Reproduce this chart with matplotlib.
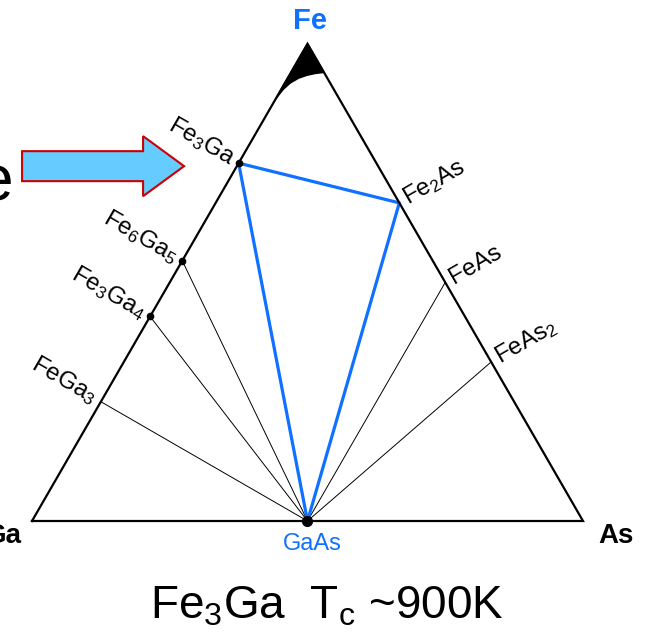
import numpy as np
import matplotlib.pyplot as plt
from matplotlib.patches import Polygon, FancyArrow

plt.rcParams['font.family'] = ['Liberation Sans', 'DejaVu Sans']
plt.rcParams['mathtext.default'] = 'regular'

BLUE = '#1070ff'

# compositions as (x_Fe, x_As), the rest is Ga
ga_side = ['$Fe_3Ga$', '$Fe_6Ga_5$', '$Fe_3Ga_4$', '$FeGa_3$']
ga_side_fe = [3 / 4, 6 / 11, 3 / 7, 1 / 4]
ga_side_dot = [True, True, True, False]

as_side = ['$Fe_2As$', 'FeAs', '$FeAs_2$']
as_side_fe = [2 / 3, 1 / 2, 1 / 3]

gaas = (0.0, 0.5)

# thin tie lines from GaAs
tie_fe_ga = [6 / 11, 3 / 7, 1 / 4]
tie_fe_as = [1 / 2, 1 / 3]

# blue three-phase triangle: Fe3Ga - Fe2As - GaAs
blue_tri = [(3 / 4, 0.0), (2 / 3, 1 / 3), (0.0, 0.5)]

# alpha-Fe solid solution boundary (x_Fe, x_As)
ss_fe = [0.885, 0.905, 0.918, 0.928, 0.934, 0.938, 0.94]
ss_as = [0.0, 0.004, 0.01, 0.02, 0.032, 0.046, 0.06]

h = np.sqrt(3) / 2


def xy(fe, as_):
    return as_ + fe / 2, fe * h


fig = plt.figure(figsize=(6.46, 6.35), dpi=100)
ax = fig.add_axes([0, 0, 1, 1])
ax.set_xlim(-32 / 551, 614 / 551)
ax.set_ylim(-114 / 551, 521 / 551)
ax.axis('off')

# solid solution region at the Fe corner
sx, sy = xy(np.array(ss_fe), np.array(ss_as))
ax.add_patch(Polygon(list(zip(sx, sy)) + [xy(1, 0)], closed=True,
                     fc='black', ec='black', lw=1, zorder=3))

# tie lines
gx, gy = xy(*gaas)
for f in tie_fe_ga:
    px, py = xy(f, 0)
    ax.plot([gx, px], [gy, py], color='black', lw=0.7, zorder=2)
for f in tie_fe_as:
    px, py = xy(f, 1 - f)
    ax.plot([gx, px], [gy, py], color='black', lw=0.7, zorder=2)

# blue triangle
bx, by = xy(np.array([p[0] for p in blue_tri]), np.array([p[1] for p in blue_tri]))
ax.plot(np.append(bx, bx[0]), np.append(by, by[0]), color=BLUE, lw=2.3, zorder=4)

# outer triangle
tx, ty = xy(np.array([0, 0, 1, 0]), np.array([0, 1, 0, 0]))
ax.plot(tx, ty, color='black', lw=1.6, zorder=5, solid_joinstyle='miter')

# phase dots
for f, d in zip(ga_side_fe, ga_side_dot):
    if d:
        px, py = xy(f, 0)
        ax.plot(px, py, 'o', color='black', ms=4.5, zorder=6)
ax.plot(gx, gy, 'o', color='black', ms=7, zorder=6)

# labels perpendicular to the edges
off = 0.012
for lab, f in zip(ga_side, ga_side_fe):
    px, py = xy(f, 0)
    ax.text(px - off * 0.866, py + off * 0.5, lab, rotation=-30,
            rotation_mode='anchor', ha='right', va='center', fontsize=17.5)
for lab, f in zip(as_side, as_side_fe):
    px, py = xy(f, 1 - f)
    ax.text(px + off * 0.866, py + off * 0.5, lab, rotation=30,
            rotation_mode='anchor', ha='left', va='center', fontsize=17.5)

# corner labels
fx, fy = xy(1, 0)
ax.text(fx + 0.004, fy + 0.016, 'Fe', color=BLUE, fontsize=21, fontweight='bold',
        ha='center', va='bottom')
ax.text(1.027, -0.027, 'As', fontsize=20, fontweight='bold', ha='left', va='center')
ax.text(-0.018, -0.027, 'Ga', fontsize=20, fontweight='bold', ha='right', va='center')
ax.text(gx + 0.008, gy - 0.022, 'GaAs', color=BLUE, fontsize=17, ha='center', va='top')

# caption
ax.text(0.535, -0.155, '$Fe_3Ga$  $T_c$ ~900K', fontsize=33, ha='center', va='center')

# arrow pointing at Fe3Ga
ax.add_patch(FancyArrow(-0.018, 0.644, 0.294, 0, width=0.0544, head_width=0.109,
                        head_length=0.0744, length_includes_head=True,
                        fc='#66ccff', ec='#cc0000', lw=1.5, zorder=3))
ax.text(-0.035, 0.582, 'e', fontsize=46, ha='right', va='baseline')

fig.savefig('out.png', dpi=100)
